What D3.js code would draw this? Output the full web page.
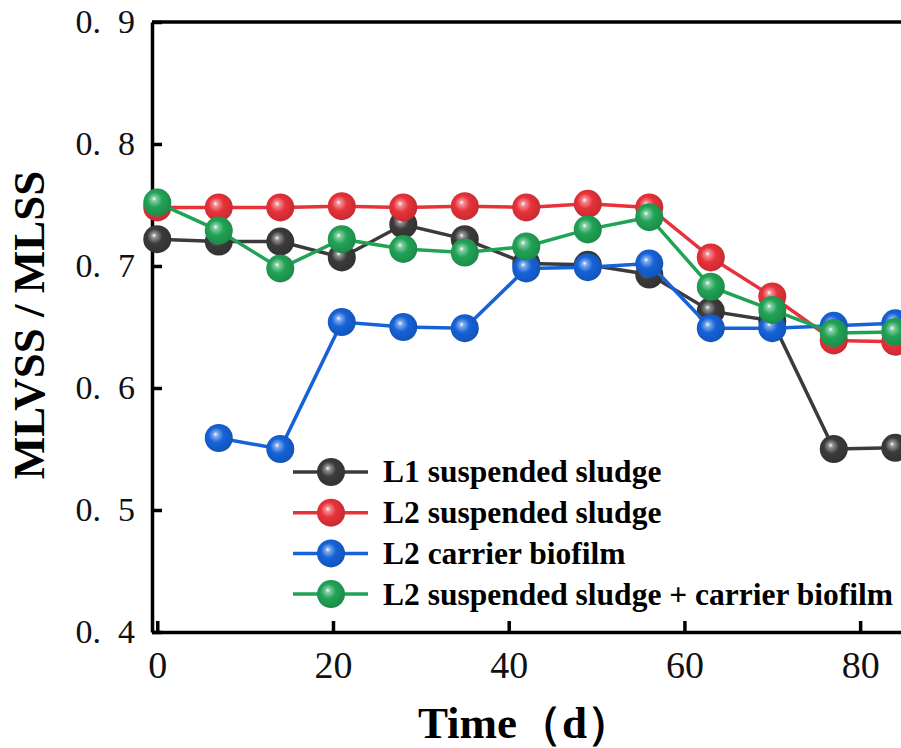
<!DOCTYPE html>
<meta charset="utf-8">
<script src="https://d3js.org/d3.v7.min.js"></script>
<style>
  body { margin: 0; background: #fff; }
  svg { display: block; }
</style>
<div id="chart"></div>
<script>

// sampling days and the four series
const days = [0, 7, 14, 21, 28, 35, 42, 49, 56, 63, 70, 77, 84];
const l1Suspended = [0.722, 0.720, 0.720, 0.707, 0.734, 0.722, 0.702, 0.701, 0.693, 0.663, 0.655, 0.550, 0.551];
const l2Suspended = [0.748, 0.748, 0.748, 0.749, 0.748, 0.749, 0.748, 0.751, 0.748, 0.707, 0.675, 0.639, 0.638];
const l2Biofilm   = [null, 0.559, 0.550, 0.654, 0.650, 0.649, 0.698, 0.699, 0.702, 0.649, 0.649, 0.651, 0.653];
const l2Combined  = [0.752, 0.729, 0.698, 0.722, 0.714, 0.711, 0.716, 0.730, 0.740, 0.683, 0.664, 0.645, 0.646];

const seriesNames = ["L1 suspended sludge", "L2 suspended sludge", "L2 carrier biofilm", "L2 suspended sludge + carrier biofilm"];
const seriesValues = [l1Suspended, l2Suspended, l2Biofilm, l2Combined];
const seriesColors = ["#3b3b3b", "#e8323a", "#1662d8", "#21a356"];

const xTicks = [0, 20, 40, 60, 80];
const yTicks = [0.4, 0.5, 0.6, 0.7, 0.8, 0.9];

const W = 901, H = 748;
const serif = "'Liberation Serif', 'Times New Roman', serif";

const svg = d3.select("#chart").append("svg")
  .attr("width", W)
  .attr("height", H);

// plot area (the right edge runs off the picture)
const x = d3.scaleLinear().domain([-0.6, 90]).range([152, 948]);
const y = d3.scaleLinear().domain([0.4, 0.9]).range([632, 22]);

// sphere-like gradients for the markers
const defs = svg.append("defs");
seriesColors.forEach((c, i) => {
  const g = defs.append("radialGradient")
    .attr("id", "ball" + i)
    .attr("cx", "45%").attr("cy", "45%").attr("r", "60%")
    .attr("fx", "38%").attr("fy", "36%");
  g.append("stop").attr("offset", "0%").attr("stop-color", "#ffffff");
  g.append("stop").attr("offset", "14%").attr("stop-color", d3.interpolateRgb(c, "#ffffff")(0.45));
  g.append("stop").attr("offset", "45%").attr("stop-color", c);
  g.append("stop").attr("offset", "100%").attr("stop-color", d3.color(c).darker(0.5));
});

// frame
svg.append("line")
  .attr("x1", x.range()[0]).attr("x2", x.range()[1])
  .attr("y1", y(0.9)).attr("y2", y(0.9))
  .attr("stroke", "#000").attr("stroke-width", 3.5);

// axes
const yAxis = svg.append("g")
  .attr("transform", `translate(${x.range()[0]},0)`)
  .call(d3.axisLeft(y)
    .tickValues(yTicks)
    .tickSizeInner(-10)
    .tickSizeOuter(0)
    .tickPadding(17)
    .tickFormat(d => d3.format(".1f")(d).replace(".", ".\u2002")));

const xAxis = svg.append("g")
  .attr("transform", `translate(0,${y.range()[0]})`)
  .call(d3.axisBottom(x)
    .tickValues(xTicks)
    .tickSizeInner(-11)
    .tickSizeOuter(0)
    .tickPadding(19));

[xAxis, yAxis].forEach(a => {
  a.select(".domain").attr("stroke", "#000").attr("stroke-width", 3.5);
  a.selectAll(".tick line").attr("stroke", "#000").attr("stroke-width", 3.5);
  a.selectAll(".tick text")
    .attr("fill", "#111")
    .style("font-family", serif);
});
yAxis.selectAll(".tick text").style("font-size", "34px");
xAxis.selectAll(".tick text").style("font-size", "38px");

// axis titles
svg.append("text")
  .attr("transform", "rotate(-90)")
  .attr("x", -325)
  .attr("y", 44)
  .attr("text-anchor", "middle")
  .style("font-family", serif)
  .style("font-weight", "bold")
  .style("font-size", "45px")
  .text("MLVSS / MLSS");

svg.append("text")
  .attr("x", 525)
  .attr("y", 738)
  .attr("text-anchor", "middle")
  .style("font-family", serif)
  .style("font-weight", "bold")
  .style("font-size", "45px")
  .text("Time\uFF08d\uFF09");

// lines + markers, one series at a time
const line = d3.line()
  .defined(d => d.v != null)
  .x(d => x(d.day))
  .y(d => y(d.v));

seriesValues.forEach((vals, i) => {
  const pts = days.map((day, j) => ({day: day, v: vals[j]}));
  const g = svg.append("g");
  g.append("path")
    .datum(pts)
    .attr("fill", "none")
    .attr("stroke", seriesColors[i])
    .attr("stroke-width", 3.5)
    .attr("d", line);
  g.selectAll("circle")
    .data(pts.filter(d => d.v != null))
    .join("circle")
      .attr("cx", d => x(d.day))
      .attr("cy", d => y(d.v))
      .attr("r", 14)
      .attr("fill", `url(#ball${i})`);
});

// legend
const legend = svg.append("g").attr("transform", "translate(293,472)");
seriesNames.forEach((name, i) => {
  const row = legend.append("g").attr("transform", `translate(0,${i * 40.7})`);
  row.append("line")
    .attr("x1", 0).attr("x2", 75)
    .attr("stroke", seriesColors[i])
    .attr("stroke-width", 3.5);
  row.append("circle")
    .attr("cx", 38).attr("r", 14)
    .attr("fill", `url(#ball${i})`);
  row.append("text")
    .attr("x", 90)
    .attr("dy", "0.33em")
    .style("font-family", serif)
    .style("font-weight", "bold")
    .style("font-size", "31.5px")
    .text(name);
});

</script>
